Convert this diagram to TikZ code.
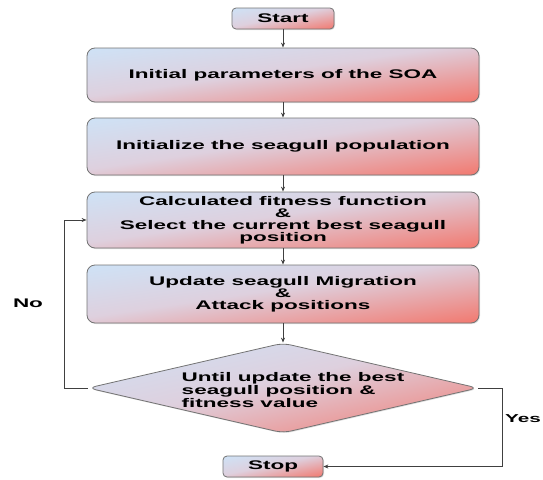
\documentclass[tikz,border=0pt]{standalone}
\usepackage{fontspec}
\setmainfont{Liberation Sans}[FakeStretch=1.8]
\usetikzlibrary{shapes.geometric,arrows.meta,shadows}
\definecolor{gullblue}{RGB}{206,226,246}
\definecolor{gullmid}{RGB}{222,208,222}
\definecolor{gullred}{RGB}{242,120,110}
\pgfdeclarehorizontalshading{gullshade}{100pt}{color(0pt)=(gullblue); color(45pt)=(gullmid); color(100pt)=(gullred)}
\begin{document}
\begin{tikzpicture}
[x=1pt, y=-1pt,
 gullfill/.style ={path picture={
   \pgfpointdiff{\pgfpointanchor{path picture bounding box}{south west}}%
     {\pgfpointanchor{path picture bounding box}{north east}}
   \pgfgetlastxy{\gullw}{\gullh}
   \pgfmathsetmacro\gullsx{\gullw/100}
   \pgfmathsetmacro\gullsy{\gullh/100}
   \pgftransformshift{\pgfpointanchor{path picture bounding box}{center}}
   \pgftransformxscale{\gullsx}
   \pgftransformyscale{\gullsy}
   \pgftransformrotate{-45}
   \pgftransformscale{1.42}
   \pgflowlevelsynccm
   \pgftext{\pgfuseshading{gullshade}}}},
 txt/.style ={font=\bfseries\fontsize{12.5}{12}\selectfont, inner sep=0pt},
 box/.style ={txt, draw=black!55, line width=.8pt, rounded corners=8pt, align=center,
   gullfill, minimum width=392pt, minimum height=56pt,
   drop shadow={opacity=.25, shadow xshift=1pt, shadow yshift=-1pt}},
 term/.style ={box, rounded corners=4pt, minimum width=102pt, minimum height=21pt},
 test/.style ={box, diamond, minimum width=390pt, minimum height=90pt},
 arrow/.style ={draw=black!75, line width=.9pt, -{Stealth[length=5pt,width=4pt]}}]
\useasboundingbox (0,0) rectangle (543,479);
\node[term] (start) at (283,18.5) {Start};
\node[box, minimum height=54pt] (init) at (283,75) {Initial parameters of the SOA};
\node[box, minimum height=57pt] (popu) at (283,146.5) {Initialize the seagull population};
\node[box] (fit) at (283,220) {Calculated fitness function\\\&\\Select the current best seagull\\position};
\node[box, minimum height=58pt] (upd) at (283,294) {Update seagull Migration\\\&\\Attack positions};
\node[test] (check) at (283,388) {};
\node[txt, align=left, font=\bfseries\fontsize{12.5}{13}\selectfont] (checktxt) at (293,390) {Until update the best\\seagull position \&\\fitness value};
\node[term, minimum width=100pt] (stop) at (273,466.5) {Stop};
\coordinate (nocol) at (64,0);
\coordinate (yescol) at (502,0);
\node[txt] (no) at (28,303) {No};
\node[txt, font=\bfseries\fontsize{11.5}{12}\selectfont, anchor=west] (yes) at (505,419) {Yes};
\draw[arrow] (start) -- (init);
\draw[arrow] (init) -- (popu);
\draw[arrow] (popu) -- (fit);
\draw[arrow] (fit) -- (upd);
\draw[arrow] (upd) -- (check);
\draw[arrow] (check.west) -- (check.west -| nocol) |- (fit.west);
\draw[arrow] (check.east) -- (check.east -| yescol) |- (stop.east);
\end{tikzpicture}
\end{document}
